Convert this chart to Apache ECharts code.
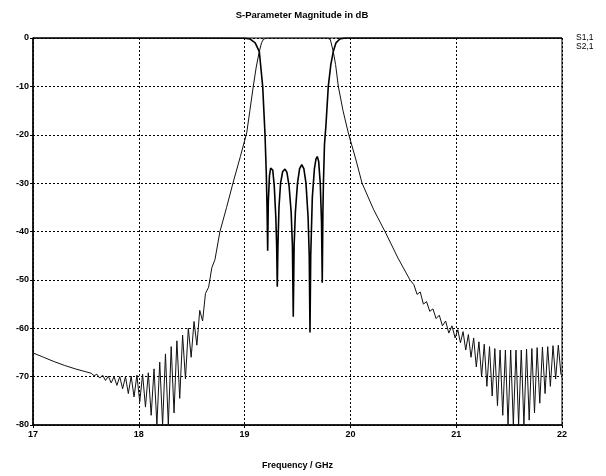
<!DOCTYPE html>
<html>
<head>
<meta charset="utf-8">
<script src="https://cdn.jsdelivr.net/npm/echarts@6.0.0/dist/echarts.min.js"></script>
<style>
html,body{margin:0;padding:0;background:#fff;}
#chart{width:606px;height:476px;}
</style>
</head>
<body>
<div id="chart"></div>
<script>
// ---- data ----
const chartTitle = 'S-Parameter Magnitude in dB';
const xAxisName = 'Frequency / GHz';
const seriesNames = ['S1,1', 'S2,1'];

// S1,1 (reflection)
const s11Freq = [17, 18.5, 19.0, 19.05, 19.10, 19.139, 19.171, 19.193, 19.205, 19.212, 19.218, 19.224, 19.235, 19.246, 19.256, 19.266, 19.280, 19.295, 19.303, 19.309, 19.315, 19.325, 19.340, 19.360, 19.382, 19.400, 19.420, 19.440, 19.452, 19.460, 19.468, 19.480, 19.500, 19.520, 19.540, 19.560, 19.580, 19.600, 19.611, 19.618, 19.625, 19.640, 19.660, 19.675, 19.687, 19.700, 19.715, 19.727, 19.734, 19.740, 19.745, 19.755, 19.769, 19.791, 19.815, 19.838, 19.864, 19.900, 19.950, 22];
const s11Db = [0, 0, -0.05, -0.2, -1.0, -2.8, -10, -20, -28, -35, -44, -34, -28.5, -26.9, -26.6, -27.3, -30.5, -37, -43, -51.4, -43, -35, -30, -27.6, -27.1, -27.8, -30.5, -36, -43, -57.6, -43, -36, -30, -27, -26.2, -27, -30, -37, -45, -60.9, -45, -33, -27, -25, -24.5, -25.5, -30, -38, -50.6, -36, -30, -22, -18, -10, -5.5, -2.8, -1, -0.2, 0, 0];

// S2,1 (transmission)
const s21Freq = [17.00, 17.10, 17.20, 17.30, 17.40, 17.50, 17.55, 17.577, 17.604, 17.631, 17.658, 17.685, 17.712, 17.739, 17.766, 17.793, 17.820, 17.847, 17.874, 17.901, 17.928, 17.955, 17.982, 18.009, 18.036, 18.063, 18.090, 18.117, 18.144, 18.171, 18.198, 18.225, 18.252, 18.279, 18.306, 18.333, 18.360, 18.387, 18.414, 18.441, 18.468, 18.495, 18.522, 18.549, 18.576, 18.603, 18.630, 18.660, 18.690, 18.720, 18.767, 18.830, 18.890, 18.960, 19.020, 19.050, 19.082, 19.110, 19.139, 19.160, 19.180, 19.220, 19.780, 19.810, 19.838, 19.860, 19.886, 19.930, 19.980, 20.050, 20.110, 20.220, 20.327, 20.450, 20.563, 20.60, 20.63, 20.66, 20.69, 20.72, 20.75, 20.78, 20.81, 20.84, 20.87, 20.90, 20.93, 20.96, 20.99, 21.015, 21.04, 21.065, 21.09, 21.115, 21.14, 21.165, 21.19, 21.215, 21.24, 21.265, 21.29, 21.315, 21.34, 21.365, 21.39, 21.415, 21.44, 21.465, 21.49, 21.515, 21.54, 21.565, 21.59, 21.615, 21.64, 21.665, 21.69, 21.715, 21.74, 21.765, 21.79, 21.815, 21.84, 21.865, 21.89, 21.915, 21.94, 21.965, 21.99, 22.0];
const s21Db = [-65.1, -66.0, -66.9, -67.7, -68.4, -69.0, -69.3, -69.8, -69.5, -70.3, -69.7, -70.8, -69.9, -71.3, -70.0, -71.8, -70.0, -72.5, -70.0, -73.5, -69.9, -74.2, -69.7, -75.2, -69.5, -76.3, -69.2, -78.0, -68.4, -80, -67.0, -80, -65.3, -80, -63.8, -77.5, -62.6, -74.5, -61.4, -70.5, -60.0, -66.0, -58.6, -63.5, -56.3, -58.5, -52.8, -51.5, -47.5, -45.8, -40.0, -35.0, -30.0, -24.5, -19.6, -15.0, -10.0, -6.0, -2.8, -1.0, -0.2, 0, 0, -0.3, -2.8, -5.5, -10.0, -15.0, -19.6, -25.0, -30.0, -35.5, -40.0, -45.5, -50.0, -51, -53, -52.5, -55, -54.5, -56.5, -56, -58, -57.3, -59.5, -58.5, -61, -59.5, -62, -60.3, -63, -60.7, -64.5, -61.3, -66, -62, -68, -62.8, -70, -63.3, -72, -63.8, -74, -64.2, -76, -64.5, -78, -64.5, -80, -64.5, -80, -64.5, -80, -64.5, -80, -64.3, -79, -64.2, -77.5, -64, -75.5, -63.9, -73.5, -63.8, -72, -63.6, -70.5, -63.5, -69.5, -69.8];

const xTicks = [17, 18, 19, 20, 21, 22];
const yTicks = [0, -10, -20, -30, -40, -50, -60, -70, -80];

// ---- build ----
const pairs = (xs, ys) => xs.map((x, i) => [x, ys[i]]);
const FONT = 'Liberation Sans, Arial, sans-serif';
const chart = echarts.init(document.getElementById('chart'), null, {renderer: 'canvas'});
chart.setOption({
  animation: false,
  backgroundColor: '#fff',
  title: {
    text: chartTitle,
    left: 297, top: 5, textAlign: 'center',
    textStyle: {fontSize: 9.5, fontWeight: 'bold', color: '#000', fontFamily: FONT}
  },
  legend: {
    data: seriesNames,
    orient: 'vertical',
    left: 570, top: 33,
    itemWidth: 0, itemHeight: 0, itemGap: 0,
    padding: 0,
    selectedMode: false,
    textStyle: {fontSize: 8.5, color: '#000', fontFamily: FONT, lineHeight: 8}
  },
  grid: {
    left: 33, right: 44, top: 38, bottom: 51,
    show: true, borderColor: '#000', borderWidth: 1, containLabel: false
  },
  xAxis: {
    type: 'value', min: xTicks[0], max: xTicks[xTicks.length - 1], interval: 1,
    name: xAxisName, nameLocation: 'middle', nameGap: 36,
    nameTextStyle: {fontSize: 9, fontWeight: 'bold', color: '#000', fontFamily: FONT},
    axisLine: {show: true, onZero: false, lineStyle: {color: '#000', width: 1.5}},
    axisTick: {show: true, length: 3, lineStyle: {color: '#000'}},
    axisLabel: {fontSize: 9, fontWeight: 'bold', color: '#000', margin: 5, fontFamily: FONT},
    splitLine: {show: true, lineStyle: {color: '#000', width: 1, type: [2, 2]}}
  },
  yAxis: {
    type: 'value', min: yTicks[yTicks.length - 1], max: yTicks[0], interval: 10,
    axisLine: {show: true, onZero: false, lineStyle: {color: '#000', width: 1.5}},
    axisTick: {show: true, length: 3, lineStyle: {color: '#000'}},
    axisLabel: {fontSize: 9, fontWeight: 'bold', color: '#000', margin: 4, fontFamily: FONT},
    splitLine: {show: true, lineStyle: {color: '#000', width: 1, type: [2, 2]}}
  },
  series: [
    {
      name: seriesNames[0], type: 'line', showSymbol: false, symbol: 'none',
      data: pairs(s11Freq, s11Db), clip: true,
      lineStyle: {color: '#000', width: 1.6}, itemStyle: {color: '#000'}
    },
    {
      name: seriesNames[1], type: 'line', showSymbol: false, symbol: 'none',
      data: pairs(s21Freq, s21Db), clip: true,
      lineStyle: {color: '#111', width: 1}, itemStyle: {color: '#000'}
    }
  ]
});
</script>
</body>
</html>
